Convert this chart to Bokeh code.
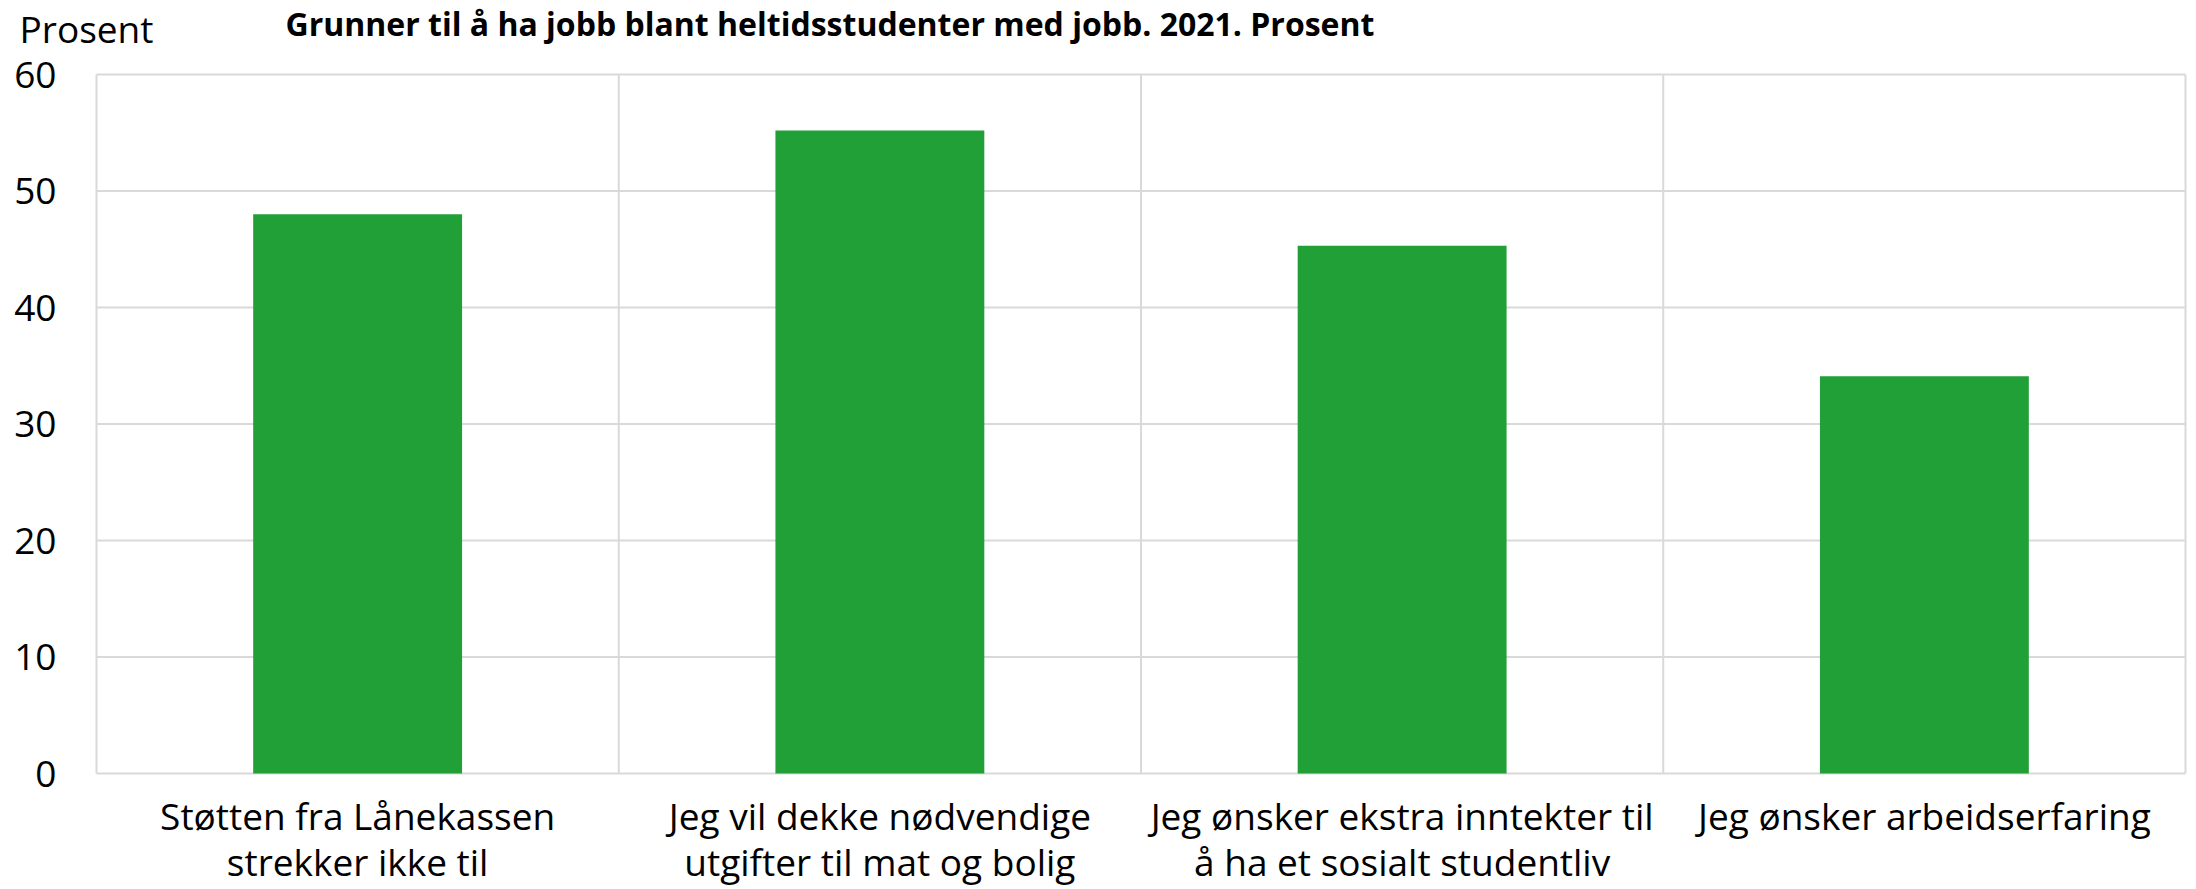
from bokeh.plotting import figure
from bokeh.models import Range1d, ColumnDataSource
from bokeh.core.properties import value
from bokeh.embed import file_html
from bokeh.resources import INLINE

# ---------------- data ----------------
label_line1 = ["Støtten fra Lånekassen",
               "Jeg vil dekke nødvendige",
               "Jeg ønsker ekstra inntekter til",
               "Jeg ønsker arbeidserfaring"]
label_line2 = ["strekker ikke til",
               "utgifter til mat og bolig",
               "å ha et sosialt studentliv",
               ""]
values = [48.0, 55.2, 45.3, 34.1]
y_ticks = [0, 10, 20, 30, 40, 50, 60]
title_text = "Grunner til å ha jobb blant heltidsstudenter med jobb. 2021. Prosent"
unit_text = "Prosent"

# ---------------- layout (pixels) ----------------
W, H = 2196, 889
PL, PR, PT, PB = 96, 2185, 74, 773     # plot area edges on the canvas
FONT = "Open Sans"
GRID = "#d9d9d9"
GREEN = "#21A038"

n = len(values)
ymax = y_ticks[-1]
ux = (PR - PL) / n          # pixels per category
uy = (PB - PT) / ymax       # pixels per y unit

x_range = Range1d(-PL / ux, n + (W - PR) / ux)
y_range = Range1d(-(H - PB) / uy, ymax + PT / uy)

p = figure(width=W, height=H, x_range=x_range, y_range=y_range,
           output_backend="svg", toolbar_location=None,
           min_border=0, min_border_left=0, min_border_right=0,
           min_border_top=0, min_border_bottom=0)
p.title.visible = False
p.xaxis.visible = False
p.yaxis.visible = False
p.xgrid.visible = False
p.ygrid.visible = False
p.outline_line_color = None
p.background_fill_color = "white"
p.border_fill_color = "white"

xc = [i + 0.5 for i in range(n)]

# horizontal grid lines
p.segment(x0=[0] * len(y_ticks), x1=[n] * len(y_ticks), y0=y_ticks, y1=y_ticks,
          line_color=GRID, line_width=2)
# vertical separators / frame sides
seps = list(range(n + 1))
p.segment(x0=seps, x1=seps, y0=[0] * len(seps), y1=[ymax] * len(seps),
          line_color=GRID, line_width=2)

# bars
src = ColumnDataSource(dict(x=xc, top=values))
p.vbar(x="x", top="top", width=0.4, bottom=0, source=src,
       fill_color=GREEN, line_color=None)

# y tick labels
p.text(x=[-40 / ux] * len(y_ticks), y=y_ticks, text=[str(t) for t in y_ticks],
       text_font=value(FONT), text_font_size=value("37px"), text_color="black",
       text_align="right", text_baseline="middle")

# category labels (two lines)
p.text(x=xc, y=[-(815 - PB) / uy] * n, text=label_line1,
       text_font=value(FONT), text_font_size=value("37px"), text_color="black",
       text_align="center", text_baseline="middle")
p.text(x=xc, y=[-(861 - PB) / uy] * n, text=label_line2,
       text_font=value(FONT), text_font_size=value("37px"), text_color="black",
       text_align="center", text_baseline="middle")

# unit label and title
p.text(x=[(19 - PL) / ux], y=[ymax + (PT - 28) / uy], text=[unit_text],
       text_font=value(FONT), text_font_size=value("37px"), text_color="black",
       text_align="left", text_baseline="middle")
p.text(x=[(285 - PL) / ux], y=[ymax + (PT - 23) / uy], text=[title_text],
       text_font=value(FONT), text_font_size=value("32px"), text_font_style="bold",
       text_color="black", text_align="left", text_baseline="middle")

open("out.html", "w").write(file_html(p, INLINE))
